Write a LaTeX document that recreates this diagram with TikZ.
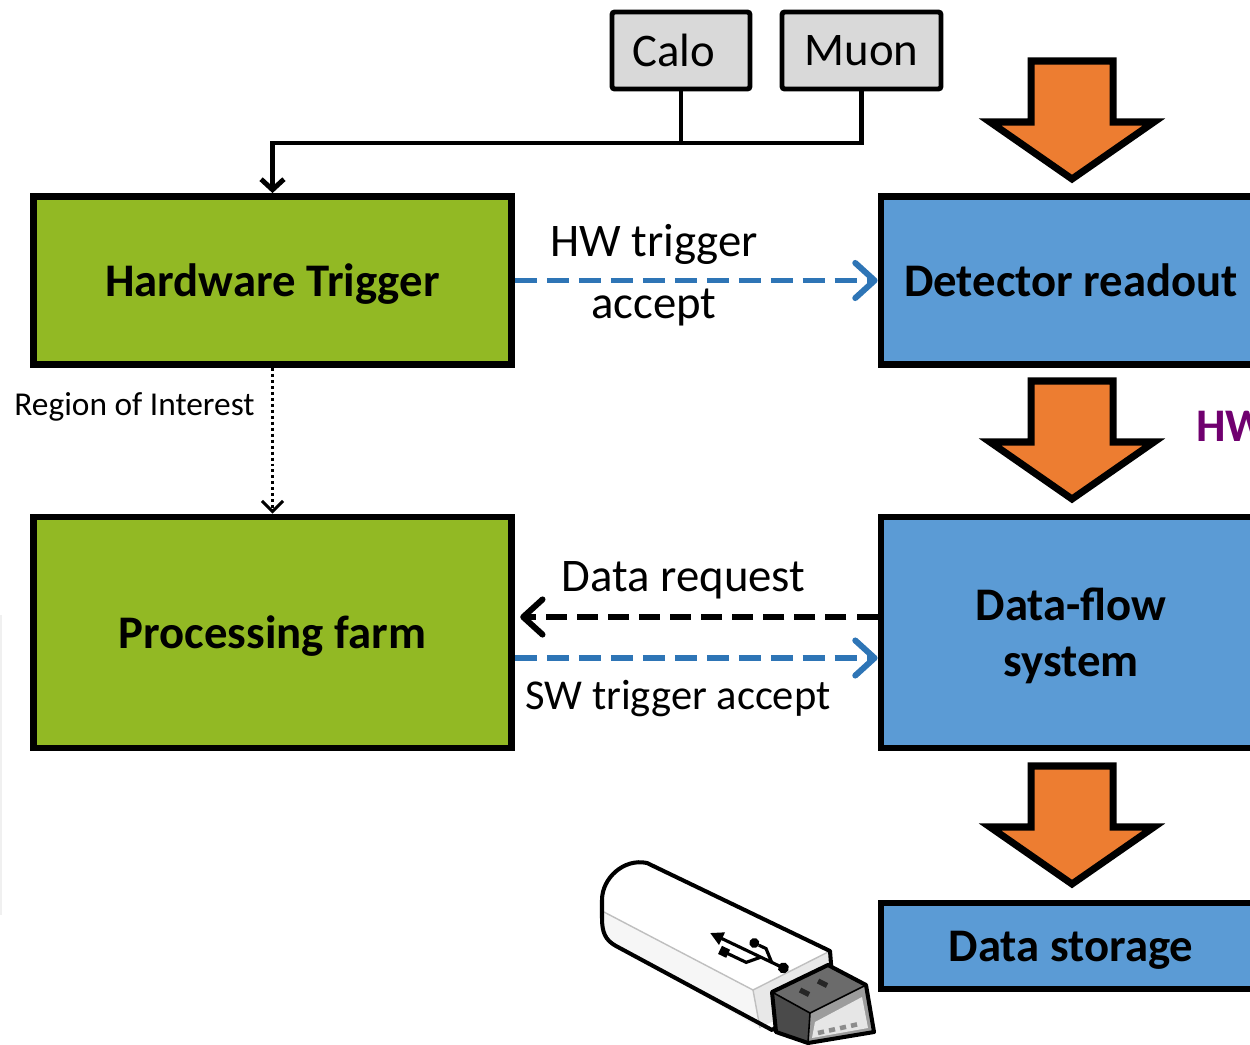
\documentclass[tikz,border=0pt]{standalone}
\usepackage{fontspec}
\setmainfont{Carlito}
\usetikzlibrary{arrows.meta}
\definecolor{trgreen}{HTML}{92B924}
\definecolor{rdblue}{HTML}{5B9BD5}
\definecolor{flowblue}{HTML}{2E75B6}
\definecolor{blockorange}{HTML}{ED7D31}
\definecolor{srcgray}{HTML}{D9D9D9}
\definecolor{hwpurple}{HTML}{70006F}
\definecolor{plugtop}{HTML}{6B6B6B}
\definecolor{plugside}{HTML}{4A4A4A}
\definecolor{plugend}{HTML}{9C9C9C}
\definecolor{pluginner}{HTML}{E6E6E6}

\begin{document}
\begin{tikzpicture}[x=0.02cm, y=-0.02cm,
  bigbox/.style={draw=black, line width=3.9pt, inner sep=0pt, align=center, text depth=0pt,
    font=\fontsize{26.6}{32}\selectfont\bfseries},
  greenbox/.style={bigbox, fill=trgreen, minimum width=478*0.02cm},
  bluebox/.style={bigbox, fill=rdblue, minimum width=380*0.02cm},
  srcbox/.style={draw=black, fill=srcgray, line width=2.8pt, rounded corners=1.5pt,
    inner sep=0pt, minimum height=77*0.02cm, font=\fontsize{26.6}{32}\selectfont},
  lbl/.style={inner sep=0pt, font=\fontsize{26.6}{32}\selectfont},
  feed/.style={line width=2.8pt, -{Straight Barb[length=6pt,width=13pt]}},
  flowdash/.style={draw=flowblue, line width=3.4pt, dash pattern=on 12.5pt off 5.7pt,
    -{Straight Barb[length=11pt,width=20pt,round]}},
  reqdash/.style={draw=black, line width=3.4pt, dash pattern=on 12pt off 5.7pt,
    -{Straight Barb[length=11pt,width=20pt,round]}},
  roiline/.style={line width=1.7pt, dash pattern=on 1.7pt off 1.7pt,
    -{Straight Barb[length=6pt,width=12pt]}},
  blockarrow/.style={draw=black, fill=blockorange, line width=4pt, miter limit=10},
  usbline/.style={line width=2.3pt, line join=round},
]
\useasboundingbox (0,0) rectangle (1250,1044);
\clip (0,0) rectangle (1250,1044);

% ---- main blocks ----
\node[greenbox, minimum height=168*0.02cm] (hwt) at (272.5,280.5) {Hardware Trigger};
\node[greenbox, minimum height=231*0.02cm] (pf) at (272.5,632.5) {Processing farm};
\node[bluebox, minimum height=168*0.02cm] (dro) at (1071,280.5) {Detector readout};
\node[bluebox, minimum height=231*0.02cm] (dfs) at (1071,632.5) {Data-flow\\system};
\node[bluebox, minimum height=86*0.02cm] (dst) at (1071,946) {Data storage};

% ---- sub-detector sources ----
\node[srcbox, minimum width=138*0.02cm] (calo) at (681,50.5) {\hspace*{-8pt}Calo};
\node[srcbox, minimum width=159*0.02cm] (muon) at (861.5,50.5) {Muon};

\coordinate (bus) at (861.5,143);
\draw[line width=2.8pt] (calo.south) -- (calo.south |- bus);
\draw[feed] (muon.south) -- (bus) -| (hwt.north);

% ---- data path block arrows ----
\foreach \ty in {61,381,766}{
  \draw[blockarrow] (1031,\ty) -- (1113,\ty) -- (1113,\ty+61) -- (1154,\ty+61)
    -- (1072,\ty+118) -- (990,\ty+61) -- (1031,\ty+61) -- cycle;
}
\node[anchor=base west, inner sep=0pt, text=hwpurple,
  font=\fontsize{26.6}{32}\selectfont\bfseries] (hwtag) at (1196,441) {HW};

% ---- trigger messages ----
\draw[flowdash] (hwt.east) -- (dro.west);
\node[lbl, anchor=base] (hwa1) at (654,256) {HW trigger};
\node[lbl, anchor=base] (hwa2) at (654,318) {accept};

\coordinate (req) at (0,617);
\coordinate (swa) at (0,658);
\draw[reqdash, shorten >=3pt] (dfs.west |- req) -- (pf.east |- req);
\node[lbl, anchor=base] (reqlbl) at (683.5,591) {Data request};
\draw[flowdash] (pf.east |- swa) -- (dfs.west |- swa);
\node[anchor=base, inner sep=0pt, font=\fontsize{24.2}{29}\selectfont] (swlbl) at (678,709) {SW trigger accept};

\draw[roiline] (hwt.south) -- (pf.north);
\node[anchor=base east, inner sep=0pt, font=\fontsize{19}{23}\selectfont] (roi) at (255,415) {Region of Interest};

\draw[gray!12, line width=0.6pt] (1,615) -- (1,915);

% ---- USB memory stick ----
% body faces
\fill[white] (647,863) -- (830,951) -- (833,990) -- (772,1030) -- (616,946)
  .. controls (605,940) and (602,932) .. (602,918) -- (602,900)
  .. controls (602,878) and (624,858) .. (647,863) -- cycle;
\fill[gray!7] (604,912) -- (753,990) -- (760,1028) -- (616,946)
  .. controls (606,940) and (603,930) .. (604,912) -- cycle;
\fill[gray!18] (753,990) -- (830,951) -- (833,990) -- (760,1028) -- cycle;
\draw[gray!50, line width=0.8pt] (604,912) -- (753,990) -- (830,951);
\draw[gray!50, line width=0.8pt] (753,990) -- (760,1028);
\draw[usbline] (647,863) -- (830,951) -- (833,990) -- (772,1030) -- (616,946)
  .. controls (605,940) and (602,932) .. (602,918) -- (602,900)
  .. controls (602,878) and (624,858) .. (647,863) -- cycle;
% plug
\fill[plugtop] (772,992) -- (828,965) -- (866,985) -- (810,1013) -- cycle;
\fill[plugside] (772,992) -- (810,1013) -- (808,1043) -- (776,1032) -- cycle;
\fill[plugend] (810,1013) -- (866,985) -- (874,1032) -- (808,1043) -- cycle;
\fill[pluginner] (815,1022) -- (862,997) -- (868,1028) -- (812,1038) -- cycle;
\foreach \k in {0,1,2,3}{
  \draw[black!45, line width=2.6pt] (818+11*\k,1033-2.4*\k) -- (824+11*\k,1031.6-2.4*\k);
}
\draw[black!85, line width=3pt] (800,990) -- (809,994.5);
\draw[black!85, line width=3pt] (818,981) -- (827,985.5);
\draw[line width=0.9pt] (772,992) -- (810,1013) -- (866,985);
\draw[line width=0.9pt] (810,1013) -- (808,1043);
\draw[usbline] (772,992) -- (828,965) -- (866,985) -- (874,1032) -- (808,1043) -- (776,1032) -- cycle;
% USB emblem
\begin{scope}[shift={(750,952)}, rotate=-25.5]
  \fill (-44,0) -- (-31,-7) -- (-31,7) -- cycle;
  \draw[line width=1.8pt] (-32,0) -- (36,0);
  \fill (37,0) circle (5.5);
  \draw[line width=1.8pt] (24,0) -- (13,-10) -- (5,-10);
  \fill (0,-10) circle (5);
  \draw[line width=1.8pt] (12,0) -- (1,11) -- (-20,11);
  \fill (-28,6.5) rectangle (-19,15.5);
\end{scope}
\end{tikzpicture}
\end{document}
